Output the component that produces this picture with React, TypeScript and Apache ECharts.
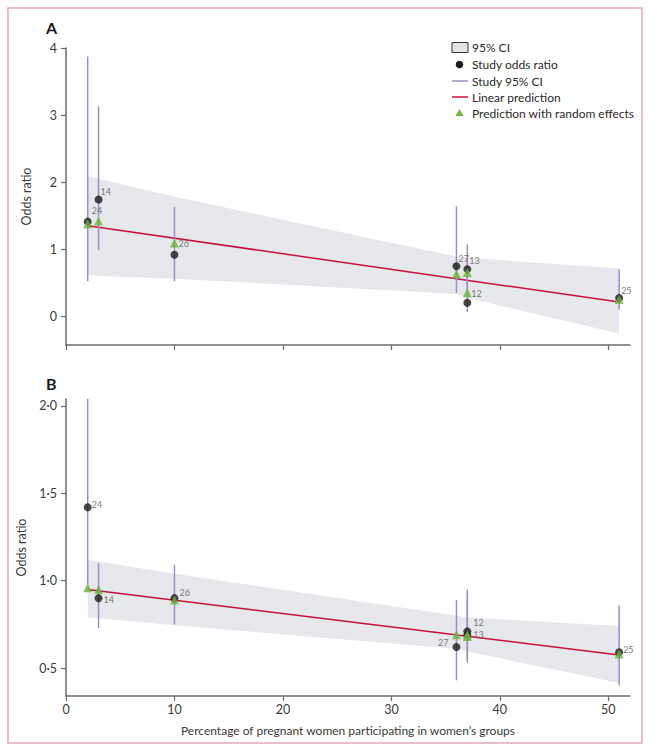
import React, { useEffect, useRef } from "react";
import * as echarts from "echarts";

// ---- data ----
const studyIds = ["24", "14", "26", "27", "13", "12", "25"];
const studyX = [2, 3, 10, 36, 37, 37, 51];

// Panel A
const orA = [1.41, 1.74, 0.915, 0.745, 0.7, 0.2, 0.27];
const ciLoA = [0.52, 0.985, 0.52, 0.35, 0.4, 0.06, 0.1];
const ciHiA = [3.87, 3.13, 1.63, 1.64, 1.07, 0.8, 0.7];
const predA = [1.375, 1.42, 1.09, 0.63, 0.65, 0.35, 0.25];
const lineXA = [2, 51];
const lineYA = [1.35, 0.21];
const bandXA = [2, 3, 10, 36, 37, 51];
const bandUpA = [2.09, 2.05, 1.78, 0.89, 0.87, 0.71];
const bandLoA = [0.61, 0.6, 0.56, 0.33, 0.27, -0.26];

// Panel B
const orB = [1.42, 0.9, 0.9, 0.62, 0.69, 0.71, 0.59];
const ciLoB = [0.98, 0.73, 0.75, 0.43, 0.55, 0.53, 0.4];
const ciHiB = [2.04, 1.1, 1.09, 0.89, 0.9, 0.95, 0.86];
const predB = [0.96, 0.95, 0.89, 0.69, 0.68, 0.69, 0.58];
const lineXB = [2, 51];
const lineYB = [0.95, 0.575];
const bandXB = [2, 3, 10, 36, 37, 51];
const bandUpB = [1.12, 1.11, 1.04, 0.8, 0.79, 0.74];
const bandLoB = [0.79, 0.785, 0.745, 0.61, 0.595, 0.415];

const xTicks = [0, 10, 20, 30, 40, 50];
const yTicksA = [0, 1, 2, 3, 4];
const yTicksB = [0.5, 1.0, 1.5, 2.0];

const legendLabels = [
  "95% CI",
  "Study odds ratio",
  "Study 95% CI",
  "Linear prediction",
  "Prediction with random effects",
];

// ---- styles ----
const FONT = "Lato";
const C_BAND = "#e6e8eb";
const C_CI = "#9d8cc6";
const C_LINE = "#c8103c";
const C_DOT = "#1c1c1c";
const C_TRI = "#6db33f";
const C_AXIS = "#6d6d6d";
const C_TEXT = "#3a3a3a";
const C_FRAME = "#e2a8c4";

// label anchor: which value the label sits next to, and its offset
const labelStyleA = [
  { on: "or", pos: "right", off: [4, -11] },
  { on: "or", pos: "right", off: [2, -8] },
  { on: "pred", pos: "right", off: [4, 0] },
  { on: "or", pos: "right", off: [2, -8] },
  { on: "or", pos: "right", off: [2, -9] },
  { on: "pred", pos: "right", off: [4, 1] },
  { on: "or", pos: "right", off: [2, -8] },
];
const labelStyleB = [
  { on: "or", pos: "right", off: [4, -3] },
  { on: "or", pos: "right", off: [5, 1] },
  { on: "or", pos: "right", off: [5, -6] },
  { on: "or", pos: "left", off: [-8, -5] },
  { on: "pred", pos: "right", off: [6, -2] },
  { on: "or", pos: "right", off: [6, -9] },
  { on: "or", pos: "right", off: [4, -3] },
];

function panelSeries(
  idx: number,
  or: number[],
  lo: number[],
  hi: number[],
  pred: number[],
  lx: number[],
  ly: number[],
  bx: number[],
  bu: number[],
  bl: number[],
  lstyle: any[]
) {
  const axes = { xAxisIndex: idx, yAxisIndex: idx };
  return [
    {
      type: "custom",
      ...axes,
      z: 1,
      silent: true,
      data: [[bx[0], bu[0]]],
      renderItem: (_p: any, api: any) => {
        const up = bx.map((x, i) => api.coord([x, bu[i]]));
        const dn = bx.map((x, i) => api.coord([x, bl[i]])).reverse();
        return {
          type: "polygon",
          shape: { points: up.concat(dn) },
          style: { fill: C_BAND },
        };
      },
    },
    {
      type: "line",
      ...axes,
      z: 2,
      symbol: "none",
      lineStyle: { color: C_LINE, width: 1.5 },
      data: lx.map((x, i) => [x, ly[i]]),
    },
    {
      type: "custom",
      ...axes,
      z: 3,
      clip: true,
      data: studyX.map((x, i) => [x, lo[i], hi[i]]),
      encode: { x: 0, y: [1, 2] },
      renderItem: (_p: any, api: any) => {
        const a = api.coord([api.value(0), api.value(1)]);
        const b = api.coord([api.value(0), api.value(2)]);
        return {
          type: "line",
          shape: { x1: a[0], y1: a[1], x2: b[0], y2: b[1] },
          style: { stroke: C_CI, lineWidth: 1.5 },
        };
      },
    },
    {
      type: "scatter",
      ...axes,
      z: 4,
      symbol: "circle",
      symbolSize: 8,
      itemStyle: { color: C_DOT },
      data: studyX.map((x, i) => [x, or[i]]),
    },
    {
      type: "scatter",
      ...axes,
      z: 5,
      symbol: "triangle",
      symbolSize: 9,
      itemStyle: { color: C_TRI },
      data: studyX.map((x, i) => [x, pred[i]]),
    },
    {
      type: "scatter",
      ...axes,
      z: 6,
      symbolSize: 0,
      silent: true,
      data: studyX.map((x, i) => ({
        value: [x, lstyle[i].on === "or" ? or[i] : pred[i]],
        name: studyIds[i],
        label: {
          show: true,
          position: lstyle[i].pos,
          distance: 0,
          offset: lstyle[i].off,
          formatter: studyIds[i],
          fontSize: 9,
          color: "#555",
          fontFamily: FONT,
        },
      })),
    },
  ];
}

const fmtB = (v: number) => v.toFixed(1).replace(".", "\u00B7");

export default function App() {
  const ref = useRef<HTMLDivElement>(null);
  useEffect(() => {
    if (!ref.current) return;
    const chart = echarts.init(ref.current, undefined, { renderer: "svg" });
    const xAxisBase = (gi: number, labels: boolean) => ({
      type: "value",
      gridIndex: gi,
      min: 0,
      max: 52,
      axisLine: {
        show: true,
        onZero: false,
        lineStyle: { color: C_AXIS, width: 1.5 },
      },
      axisTick: {
        show: true,
        length: 5,
        customValues: xTicks,
        lineStyle: { color: C_AXIS, width: 1.2 },
      },
      axisLabel: {
        show: labels,
        customValues: xTicks,
        fontSize: 12.5,
        color: C_TEXT,
        fontFamily: FONT,
        margin: 7,
      },
      splitLine: { show: false },
      name: labels
        ? "Percentage of pregnant women participating in women\u2019s groups"
        : "",
      nameLocation: "middle",
      nameGap: 28,
      nameTextStyle: { fontSize: 12, color: C_TEXT, fontFamily: FONT },
    });
    const yAxisBase = (
      gi: number,
      min: number,
      max: number,
      ticks: number[],
      fmt: (v: number) => string
    ) => ({
      type: "value",
      gridIndex: gi,
      min,
      max,
      axisLine: {
        show: true,
        onZero: false,
        lineStyle: { color: C_AXIS, width: 1.5 },
      },
      axisTick: {
        show: true,
        length: 5,
        customValues: ticks,
        lineStyle: { color: C_AXIS, width: 1.2 },
      },
      axisLabel: {
        customValues: ticks,
        formatter: fmt,
        fontSize: 12.5,
        color: C_TEXT,
        fontFamily: FONT,
        margin: 9,
      },
      splitLine: { show: false },
      name: "Odds ratio",
      nameLocation: "middle",
      nameRotate: 90,
      nameGap: 33,
      nameTextStyle: { fontSize: 12.5, color: C_TEXT, fontFamily: FONT },
    });

    const legendItems: any[] = [];
    const lx = 452;
    const ly = [47.5, 64.5, 81, 97, 113];
    legendItems.push({
      type: "rect",
      shape: { x: lx, y: 42.5, width: 16, height: 10 },
      style: { fill: "#e4e4e4", stroke: "#333", lineWidth: 1 },
    });
    legendItems.push({
      type: "circle",
      shape: { cx: lx + 7.5, cy: ly[1], r: 3.8 },
      style: { fill: C_DOT },
    });
    legendItems.push({
      type: "line",
      shape: { x1: lx, y1: ly[2], x2: lx + 16, y2: ly[2] },
      style: { stroke: C_CI, lineWidth: 1.5 },
    });
    legendItems.push({
      type: "line",
      shape: { x1: lx, y1: ly[3], x2: lx + 16, y2: ly[3] },
      style: { stroke: C_LINE, lineWidth: 1.5 },
    });
    legendItems.push({
      type: "polygon",
      shape: {
        points: [
          [lx + 7.5, ly[4] - 4],
          [lx + 3.5, ly[4] + 3],
          [lx + 11.5, ly[4] + 3],
        ],
      },
      style: { fill: C_TRI },
    });
    legendLabels.forEach((t, i) => {
      legendItems.push({
        type: "text",
        x: 472,
        y: ly[i],
        style: {
          text: t,
          fontSize: 12,
          fill: "#2a2a2a",
          fontFamily: FONT,
          verticalAlign: "middle",
          align: "left",
        },
      });
    });

    const option: any = {
      animation: false,
      backgroundColor: "#ffffff",
      textStyle: { fontFamily: FONT },
      grid: [
        { left: 66, top: 48, width: 564, height: 297 },
        { left: 66, top: 399, width: 564, height: 297 },
      ],
      xAxis: [xAxisBase(0, false), xAxisBase(1, true)],
      yAxis: [
        yAxisBase(0, -0.43, 4, yTicksA, (v: number) => String(v)),
        yAxisBase(1, 0.34, 2.04, yTicksB, fmtB),
      ],
      series: [
        ...panelSeries(0, orA, ciLoA, ciHiA, predA, lineXA, lineYA, bandXA, bandUpA, bandLoA, labelStyleA),
        ...panelSeries(1, orB, ciLoB, ciHiB, predB, lineXB, lineYB, bandXB, bandUpB, bandLoB, labelStyleB),
      ],
      graphic: [
        {
          type: "rect",
          z: -10,
          shape: { x: 8, y: 8, width: 634, height: 735 },
          style: { fill: "none", stroke: C_FRAME, lineWidth: 1.5 },
        },
        {
          type: "text",
          x: 46,
          y: 27,
          style: {
            text: "A",
            fontSize: 16,
            fontWeight: "bold",
            fill: "#1a1a1a",
            fontFamily: FONT,
            verticalAlign: "middle",
          },
        },
        {
          type: "text",
          x: 46,
          y: 383,
          style: {
            text: "B",
            fontSize: 16,
            fontWeight: "bold",
            fill: "#1a1a1a",
            fontFamily: FONT,
            verticalAlign: "middle",
          },
        },
        ...legendItems,
      ],
    };
    chart.setOption(option);
    return () => chart.dispose();
  }, []);
  return (
    <div
      ref={ref}
      style={{ position: "fixed", left: 0, top: 0, width: 650, height: 751 }}
    />
  );
}
